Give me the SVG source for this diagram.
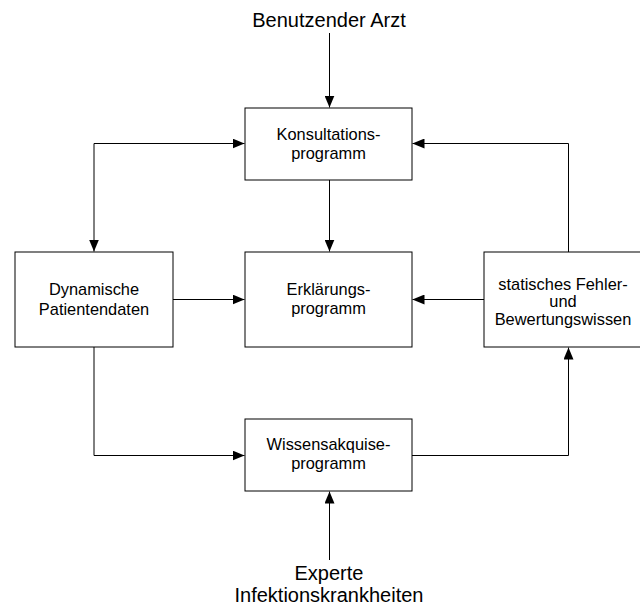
<svg xmlns="http://www.w3.org/2000/svg" width="640" height="606" viewBox="0 0 640 606">
  <style>
    .box { fill: #fff; stroke: #000; stroke-width: 1; }
    .lbl { font-family: "Liberation Sans", Arial, sans-serif; font-size: 16.4px; fill: #000; text-anchor: middle; }
    .ext { font-family: "Liberation Sans", Arial, sans-serif; font-size: 20px; fill: #000; text-anchor: middle; }
    .wire { fill: none; stroke: #000; stroke-width: 1; marker-end: url(#head); }
  </style>
  <defs>
    <marker id="head" viewBox="0 0 12 10" refX="12" refY="5" markerWidth="12" markerHeight="10" markerUnits="userSpaceOnUse" orient="auto">
      <path d="M0,0 L12,5 L0,10 Z" fill="#000"/>
    </marker>
  </defs>
  <rect width="640" height="606" fill="#fff"/>

  <g id="connectors">
    <path class="wire" d="M329.5,33 V107.5"/>
    <path class="wire" d="M329.5,180 V251.5"/>
    <path class="wire" d="M94,143.5 H244.5"/>
    <path class="wire" d="M94,143.5 V251.5"/>
    <path class="wire" d="M568.5,252 V143.5 H412.5"/>
    <path class="wire" d="M173,299.5 H244.5"/>
    <path class="wire" d="M484,299.5 H412.5"/>
    <path class="wire" d="M94,347 V455.5 H244.5"/>
    <path class="wire" d="M412,455.5 H568.5 V347.5"/>
    <path class="wire" d="M329.5,560 V491.5"/>
  </g>

  <g id="arzt">
    <text class="ext" x="329" y="27">Benutzender Arzt</text>
  </g>
  <g id="konsultation">
    <rect class="box" x="245" y="108" width="167" height="72"/>
    <text class="lbl" x="328.5" y="139.5">Konsultations-</text>
    <text class="lbl" x="328.5" y="159">programm</text>
  </g>
  <g id="patientendaten">
    <rect class="box" x="15" y="252" width="158" height="95"/>
    <text class="lbl" x="94" y="295">Dynamische</text>
    <text class="lbl" x="94" y="315">Patientendaten</text>
  </g>
  <g id="erklaerung">
    <rect class="box" x="245" y="252" width="167" height="95"/>
    <text class="lbl" x="328.5" y="294.5">Erklärungs-</text>
    <text class="lbl" x="328.5" y="314">programm</text>
  </g>
  <g id="fehlerwissen">
    <rect class="box" x="484" y="252" width="158" height="95"/>
    <text class="lbl" x="563" y="289.5">statisches Fehler-</text>
    <text class="lbl" x="563" y="307">und</text>
    <text class="lbl" x="563" y="325">Bewertungswissen</text>
  </g>
  <g id="wissensakquise">
    <rect class="box" x="245" y="419" width="167" height="72"/>
    <text class="lbl" x="328.5" y="449.5">Wissensakquise-</text>
    <text class="lbl" x="328.5" y="469">programm</text>
  </g>
  <g id="experte">
    <text class="ext" x="329" y="580">Experte</text>
    <text class="ext" x="329" y="602">Infektionskrankheiten</text>
  </g>
</svg>
